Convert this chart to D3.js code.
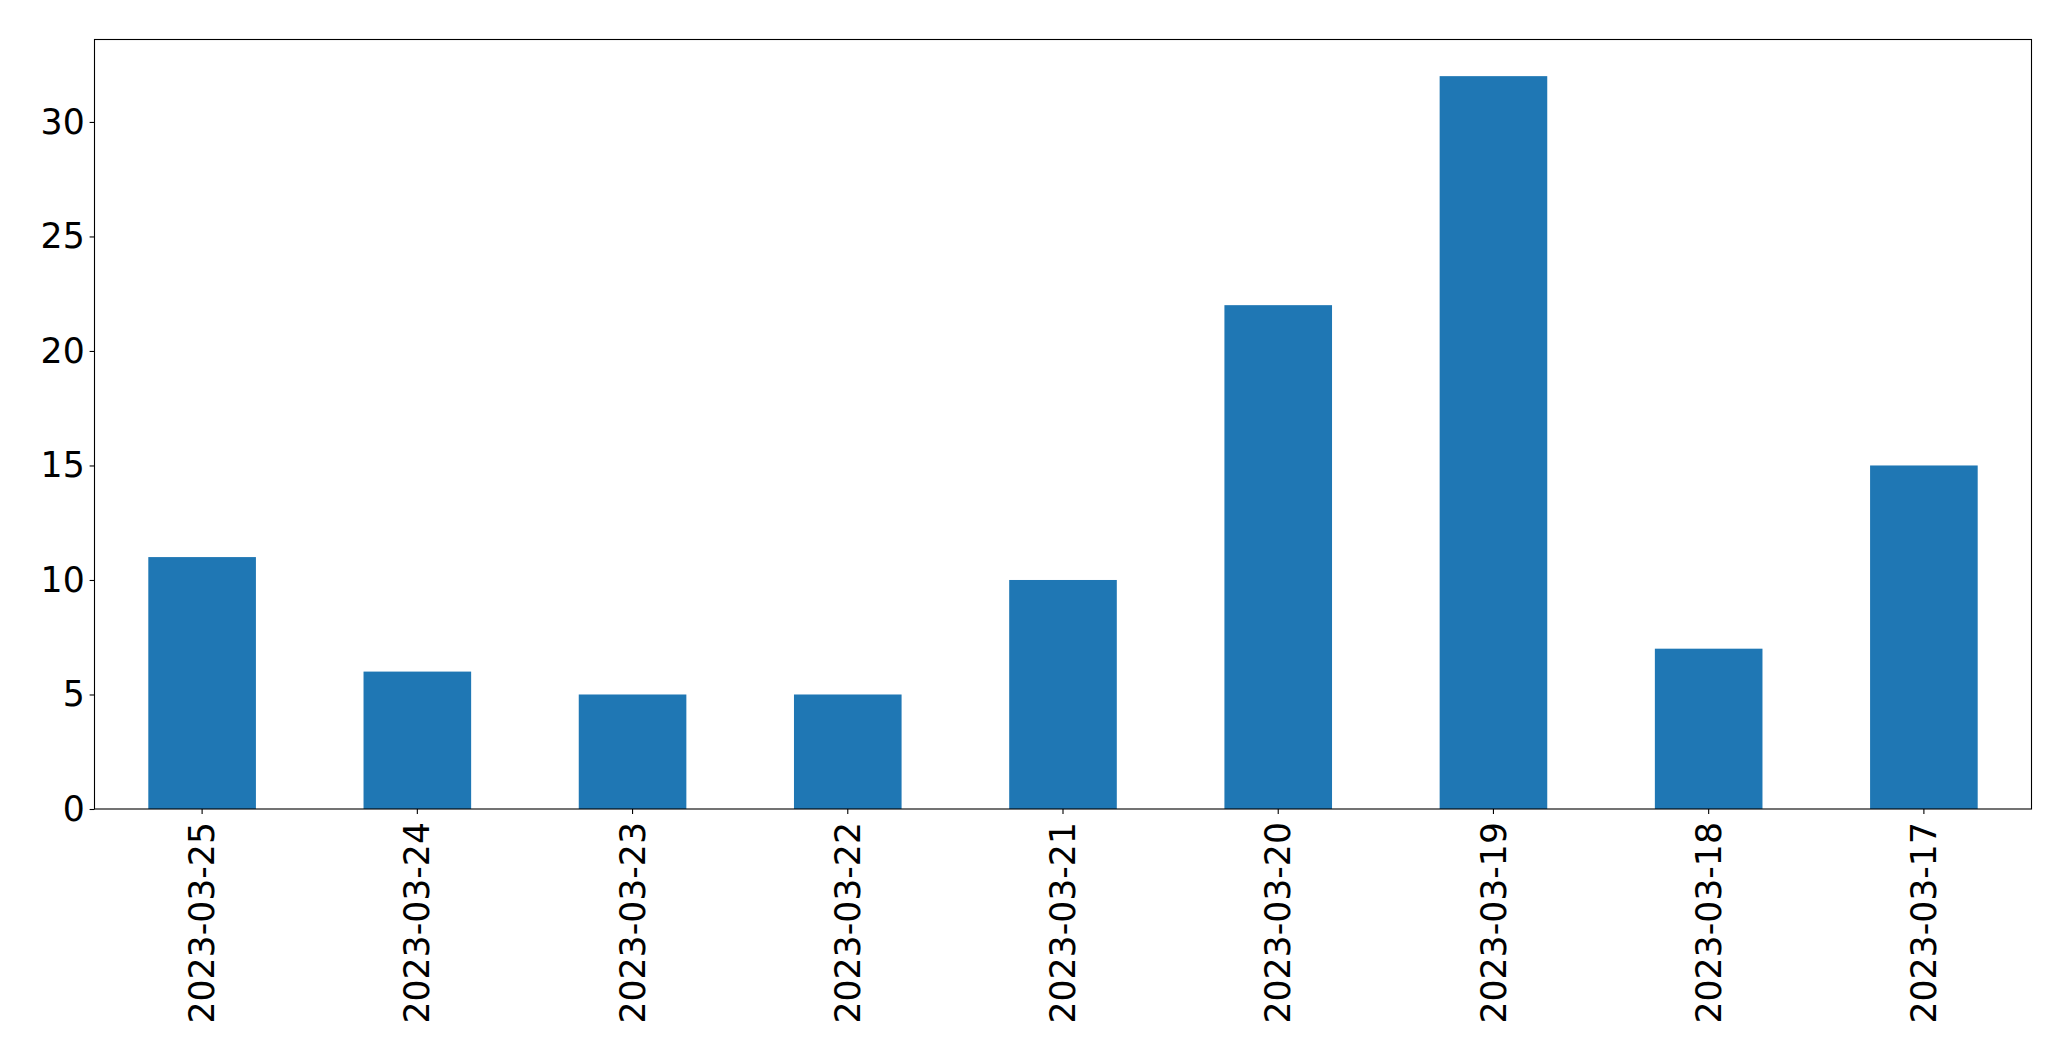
<!DOCTYPE html>
<html>
<head>
<meta charset="utf-8">
<script src="https://cdn.jsdelivr.net/npm/d3@7"></script>
<style>
  html, body { margin: 0; padding: 0; background: #fff; }
  svg { display: block; }
  text { font-family: "DejaVu Sans", sans-serif; }
</style>
</head>
<body>
<script>
const categories = ["2023-03-25","2023-03-24","2023-03-23","2023-03-22","2023-03-21","2023-03-20","2023-03-19","2023-03-18","2023-03-17"];
const values = [11, 6, 5, 5, 10, 22, 32, 7, 15];
const yTicks = [0, 5, 10, 15, 20, 25, 30];

const W = 2071, H = 1061;
const margin = { left: 94.5, top: 39.5, right: W - 2031.5, bottom: H - 809 };
const iw = W - margin.left - margin.right;
const ih = H - margin.top - margin.bottom;

const svg = d3.select("body").append("svg").attr("width", W).attr("height", H);
const g = svg.append("g").attr("transform", `translate(${margin.left},${margin.top})`);

const x = d3.scaleBand().domain(categories).range([0, iw]).paddingInner(0.5).paddingOuter(0.25);
const y = d3.scaleLinear().domain([0, d3.max(values) * 1.05]).range([ih, 0]);

g.selectAll("rect.bar").data(values).enter().append("rect")
  .attr("class", "bar")
  .attr("x", (d, i) => x(categories[i]))
  .attr("width", x.bandwidth())
  .attr("y", d => y(d))
  .attr("height", d => ih - y(d))
  .attr("fill", "#1f77b4");

const fs = "34.7px";
const yAxis = g.append("g").call(d3.axisLeft(y).tickValues(yTicks).tickSize(4.9).tickPadding(4.9).tickFormat(d3.format("d")));
yAxis.select(".domain").remove();
yAxis.selectAll("text").style("font-size", fs).attr("fill", "#000");
yAxis.selectAll("line").attr("stroke", "#000").attr("stroke-width", 1.1);

const xAxis = g.append("g").attr("transform", `translate(0,${ih})`)
  .call(d3.axisBottom(x).tickSize(4.9).tickPadding(0));
xAxis.select(".domain").remove();
xAxis.selectAll("line").attr("stroke", "#000").attr("stroke-width", 1.1);
xAxis.selectAll("text")
  .style("font-size", fs).attr("fill", "#000")
  .attr("text-anchor", "end")
  .attr("dy", "0.35em")
  .attr("transform", "translate(0,13) rotate(-90)")
  .attr("x", 0).attr("y", 0);

g.append("rect").attr("x", 0).attr("y", 0).attr("width", iw).attr("height", ih)
  .attr("fill", "none").attr("stroke", "#000").attr("stroke-width", 1.1);
</script>
</body>
</html>
